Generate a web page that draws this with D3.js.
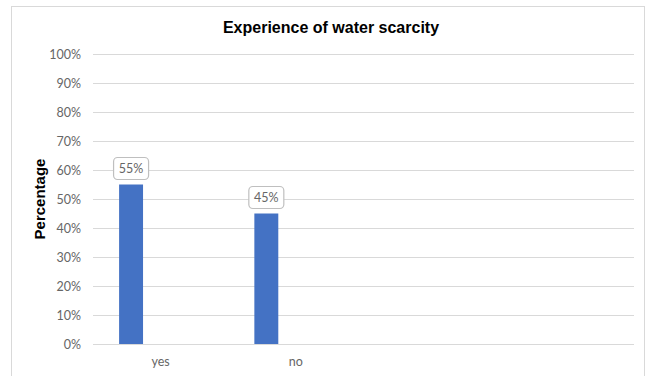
<!DOCTYPE html>
<html>
<head>
<meta charset="utf-8">
<script src="https://cdn.jsdelivr.net/npm/d3@7"></script>
<style>
  html, body { margin: 0; padding: 0; background: #fff; }
  svg { display: block; }
</style>
</head>
<body>
<svg id="chart" width="647" height="376"></svg>
<script>
// Chart data
const categories = ["yes", "no"];
const slotCount = 4;              // category slots on the x axis
const values = [55, 45];          // percent of respondents
const yTicks = [0, 10, 20, 30, 40, 50, 60, 70, 80, 90, 100];
const chartTitle = "Experience of water scarcity";
const yTitle = "Percentage";

const svg = d3.select("#chart");
const margin = { left: 93, top: 54 };
const plotRight = 634, plotBottom = 344;

// Chart frame
svg.append("rect")
  .attr("x", 11.5).attr("y", 6.5)
  .attr("width", 633).attr("height", 380)
  .attr("fill", "#fff")
  .attr("stroke", "#d9d9d9").attr("stroke-width", 1);

const slots = categories.concat(d3.range(slotCount - categories.length).map(i => "slot" + i));
const x = d3.scaleBand().domain(slots).range([margin.left, plotRight]).padding(0);
const y = d3.scaleLinear().domain([0, 100]).range([plotBottom, margin.top]);

// Gridlines
svg.append("g")
  .selectAll("line")
  .data(yTicks)
  .join("line")
  .attr("x1", margin.left).attr("x2", plotRight)
  .attr("y1", d => Math.round(y(d)) + 0.5).attr("y2", d => Math.round(y(d)) + 0.5)
  .attr("stroke", "#d9d9d9").attr("stroke-width", 1.2);

// Y axis labels
const yAxis = d3.axisLeft(y).tickValues(yTicks).tickFormat(d => d + "%").tickSize(0).tickPadding(12);
const yg = svg.append("g").attr("transform", `translate(${margin.left},0)`).call(yAxis);
yg.select(".domain").remove();
yg.selectAll("text")
  .attr("font-family", "Lato, 'Open Sans', sans-serif")
  .attr("font-size", 12.5)
  .attr("fill", "#666");

// X axis labels
const xAxis = d3.axisBottom(x).tickFormat(d => categories.includes(d) ? d : "").tickSize(0).tickPadding(13);
const xg = svg.append("g").attr("transform", `translate(0,${plotBottom})`).call(xAxis);
xg.select(".domain").remove();
xg.selectAll("text")
  .attr("font-family", "Lato, 'Open Sans', sans-serif")
  .attr("font-size", 12.5)
  .attr("fill", "#666");

// Bars sit in the left part of each category slot
const barOffset = 0.193, barWidth = 0.177;
const bw = x.bandwidth();
const bars = categories.map((c, i) => ({ cat: c, value: values[i] }));

svg.append("g")
  .selectAll("rect")
  .data(bars)
  .join("rect")
  .attr("x", d => x(d.cat) + bw * barOffset)
  .attr("width", bw * barWidth)
  .attr("y", d => y(d.value))
  .attr("height", d => y(0) - y(d.value))
  .attr("fill", "#4472c4");

// Value callouts
const labels = svg.append("g")
  .selectAll("g")
  .data(bars)
  .join("g")
  .attr("transform", d => `translate(${x(d.cat) + bw * (barOffset + barWidth / 2)},${y(d.value) - 16})`);

labels.append("rect")
  .attr("x", -17.5).attr("y", -11)
  .attr("width", 35).attr("height", 22)
  .attr("rx", 4).attr("ry", 4)
  .attr("fill", "#fff")
  .attr("stroke", "#bfbfbf").attr("stroke-width", 1.2);

labels.append("text")
  .attr("text-anchor", "middle")
  .attr("dy", "0.36em")
  .attr("font-family", "Lato, 'Open Sans', sans-serif")
  .attr("font-size", 12.5)
  .attr("fill", "#666")
  .text(d => d.value + "%");

// Titles
svg.append("text")
  .attr("x", 331).attr("y", 33)
  .attr("text-anchor", "middle")
  .attr("font-family", "'Liberation Sans', Arial, sans-serif")
  .attr("font-weight", "bold")
  .attr("font-size", 16)
  .attr("fill", "#000")
  .text(chartTitle);

svg.append("text")
  .attr("transform", `translate(45,${(margin.top + plotBottom) / 2}) rotate(-90)`)
  .attr("text-anchor", "middle")
  .attr("font-family", "'Liberation Sans', Arial, sans-serif")
  .attr("font-weight", "bold")
  .attr("font-size", 15)
  .attr("fill", "#000")
  .text(yTitle);
</script>
</body>
</html>
